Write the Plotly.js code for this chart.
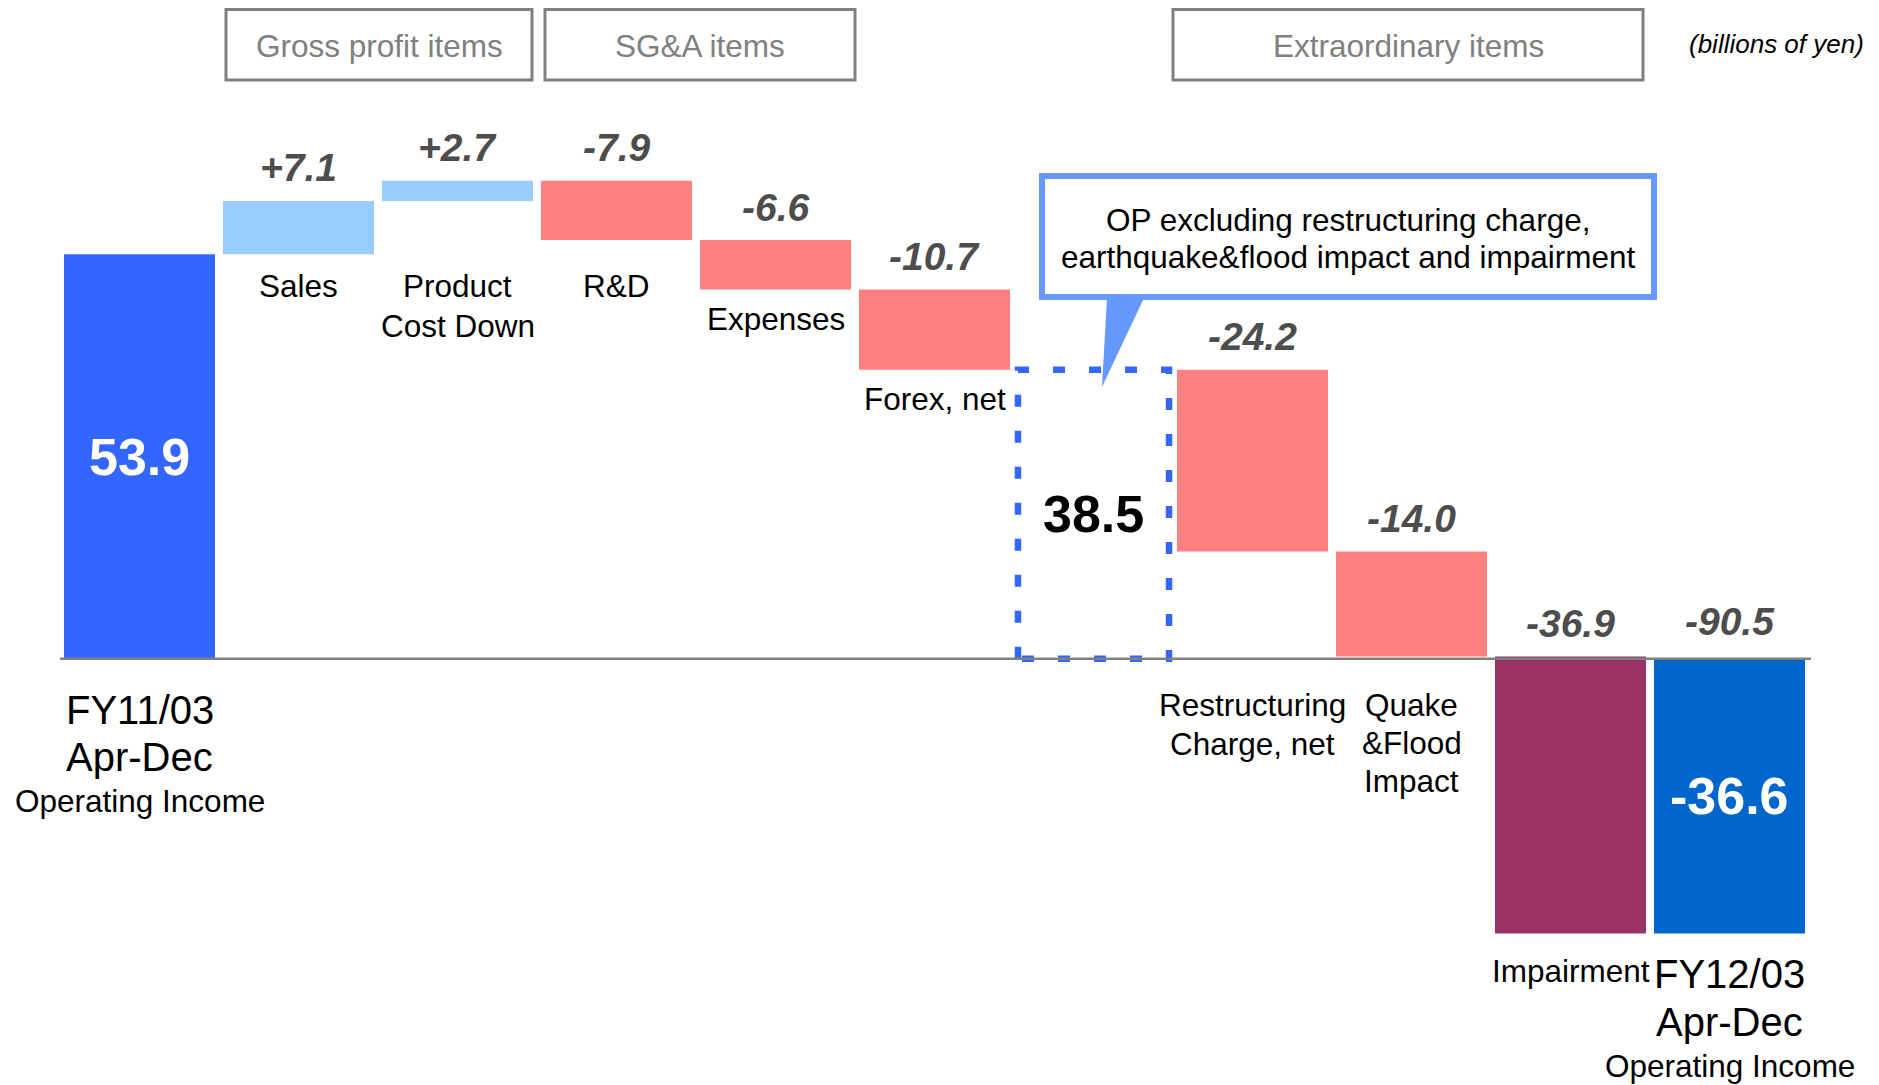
<!DOCTYPE html>
<html><head><meta charset="utf-8">
<script src="https://cdn.plot.ly/plotly-3.0.1.min.js"></script>
<style>html,body{margin:0;padding:0;background:#fff;overflow:hidden}#chart{width:1879px;height:1085px}</style>
</head><body><div id="chart"></div>
<script>
// ---------------- DATA ----------------
const categories = ["FY11/03 Apr-Dec Operating Income","Sales","Product Cost Down","R&D","Expenses","Forex, net","OP excluding restructuring charge, earthquake&flood impact and impairment","Restructuring Charge, net","Quake &Flood Impact","Impairment","FY12/03 Apr-Dec Operating Income"];
const measures = ["absolute","relative","relative","relative","relative","relative","total","relative","relative","relative","total"];
const values = [53.9, 7.1, 2.7, -7.9, -6.6, -10.7, 38.5, -24.2, -14.0, -36.9, -36.6];
const valueText = ["53.9","+7.1","+2.7","-7.9","-6.6","-10.7","38.5","-24.2","-14.0","-36.9","-36.6"];
const totalChangeText = "-90.5";
const categoryLabelLines = [["FY11/03","Apr-Dec","Operating Income"],["Sales"],["Product","Cost Down"],["R&D"],["Expenses"],["Forex, net"],[],["Restructuring","Charge, net"],["Quake","&Flood","Impact"],["Impairment"],["FY12/03","Apr-Dec","Operating Income"]];
const groupHeaders = ["Gross profit items","SG&A items","Extraordinary items"];
const unitNote = "(billions of yen)";
const calloutLines = ["OP excluding restructuring charge,","earthquake&flood impact and impairment"];

// ---------------- STYLE / LAYOUT ----------------
const W = 1879, H = 1085, ML = 60, MR = 70;
const PW = W - ML - MR;
const px = x => (x - ML) / PW;
const py = y => 1 - y / H;
const FONT = "Liberation Sans, Arial, Helvetica, sans-serif";
const barColors = ["#3366FF","#99CCFF","#99CCFF","#FF8080","#FF8080","#FF8080","rgba(0,0,0,0)","#FF8080","#FF8080","#993366","#0066CC"];
const barWidth = 0.95;
const subtotalIndex = measures.indexOf("total");
// label line positions (pixel centres) and sizes
const labelLineY = [[710,757,801],[286],[286,326],[286],[319],[399],[],[705,744],[705,743,781],[971],[974,1022,1066]];
const labelLineSize = [[40,40,31.5],[31.5],[31.5,31.5],[31.5],[31.5],[31.5],[],[31.5,31.5],[31.5,31.5,31.5],[31.5],[40,40,31.5]];
const headerBoxes = [[226,532],[545,855],[1173,1643]]; // pixel x extents
const headerY = [9.5, 80];

// ---------------- COMPUTE ----------------
const idx = categories.map((_, i) => i);
const bases = [];
let run = 0;
values.forEach((v, i) => {
  if (measures[i] === "relative") { bases.push(run); run += v; }
  else { bases.push(0); run = v; }
});
const barIdx = idx.filter(i => i !== subtotalIndex);

const traces = [{
  type: "bar",
  x: barIdx,
  y: barIdx.map(i => values[i]),
  base: barIdx.map(i => bases[i]),
  width: barWidth,
  marker: { color: barIdx.map(i => barColors[i]), line: { width: 0 } },
  hoverinfo: "skip"
}, {
  type: "scatter", mode: "lines",
  x: [subtotalIndex - barWidth/2, subtotalIndex - barWidth/2, subtotalIndex + barWidth/2, subtotalIndex + barWidth/2, subtotalIndex - barWidth/2],
  y: [0, values[subtotalIndex], values[subtotalIndex], 0, 0],
  line: { color: "#3366FF", width: 6.5, dash: "12px,24px" },
  hoverinfo: "skip"
}];

const annotations = [];
const shapes = [];
const ann = o => annotations.push(Object.assign({ showarrow: false, xanchor: "center", yanchor: "middle" }, o));

// value labels above change bars
idx.forEach(i => {
  if (measures[i] !== "relative") return;
  const top = Math.max(bases[i], bases[i] + values[i]);
  ann({ x: i, y: top, xref: "x", yref: "y", yshift: 33,
    text: "<b><i>" + valueText[i] + "</i></b>",
    font: { family: FONT, size: 39, color: "#4D4D4D" } });
});
// total change label above final bar
const last = idx.length - 1;
ann({ x: last, y: Math.max(0, values[last]), xref: "x", yref: "y", yshift: 37,
  text: "<b><i>" + totalChangeText + "</i></b>",
  font: { family: FONT, size: 39, color: "#4D4D4D" } });
// in-bar labels for absolute/total
idx.forEach(i => {
  if (measures[i] === "relative") return;
  ann({ x: i, y: values[i] / 2, xref: "x", yref: "y",
    text: "<b>" + valueText[i] + "</b>",
    font: { family: FONT, size: 52, color: i === subtotalIndex ? "#000000" : "#FFFFFF" } });
});
// category labels
idx.forEach(i => {
  categoryLabelLines[i].forEach((t, k) => {
    ann({ x: i, y: py(labelLineY[i][k]), xref: "x", yref: "paper",
      text: t, font: { family: FONT, size: labelLineSize[i][k], color: "#000000" } });
  });
});
// group headers
groupHeaders.forEach((t, k) => {
  const [x0, x1] = headerBoxes[k];
  shapes.push({ type: "rect", xref: "paper", yref: "paper", x0: px(x0), x1: px(x1), y0: py(headerY[0]), y1: py(headerY[1]),
    line: { color: "#808080", width: 3 }, fillcolor: "rgba(0,0,0,0)" });
  ann({ x: px((x0 + x1) / 2), y: py(46), xref: "paper", yref: "paper",
    text: t, font: { family: FONT, size: 31.5, color: "#808080" } });
});
// unit note
ann({ x: px(1776), y: py(44), xref: "paper", yref: "paper",
  text: "<i>" + unitNote + "</i>", font: { family: FONT, size: 26, color: "#000000" } });
// zero line
shapes.push({ type: "line", xref: "paper", yref: "y", x0: px(60), x1: px(1811), y0: 0, y1: 0,
  line: { color: "#808080", width: 2.5 }, layer: "above" });
// callout box
shapes.push({ type: "rect", xref: "paper", yref: "paper", x0: px(1042), x1: px(1654), y0: py(176), y1: py(297),
  line: { color: "#6699FF", width: 6 }, fillcolor: "#FFFFFF", layer: "above" });
shapes.push({ type: "path", xref: "paper", yref: "paper",
  path: `M ${px(1107)} ${py(298)} L ${px(1102)} ${py(387)} L ${px(1144)} ${py(298)} Z`,
  fillcolor: "#6699FF", line: { width: 0 }, layer: "above" });
calloutLines.forEach((t, k) => {
  ann({ x: px(1348), y: py(220 + k * 37), xref: "paper", yref: "paper",
    text: t, font: { family: FONT, size: 31.5, color: "#000000" } });
});

const yTop = 658.8 / 7.505, yBot = -(H - 658.8) / 7.505;
const layout = {
  width: W, height: H,
  margin: { l: ML, r: MR, t: 0, b: 0, pad: 0 },
  paper_bgcolor: "#FFFFFF", plot_bgcolor: "#FFFFFF",
  showlegend: false,
  barmode: "overlay",
  xaxis: { range: [-0.5, idx.length - 0.5], visible: false, fixedrange: true },
  yaxis: { range: [yBot, yTop], visible: false, fixedrange: true, zeroline: false },
  annotations, shapes
};
Plotly.newPlot("chart", traces, layout, { displayModeBar: false, staticPlot: true });
</script></body></html>
